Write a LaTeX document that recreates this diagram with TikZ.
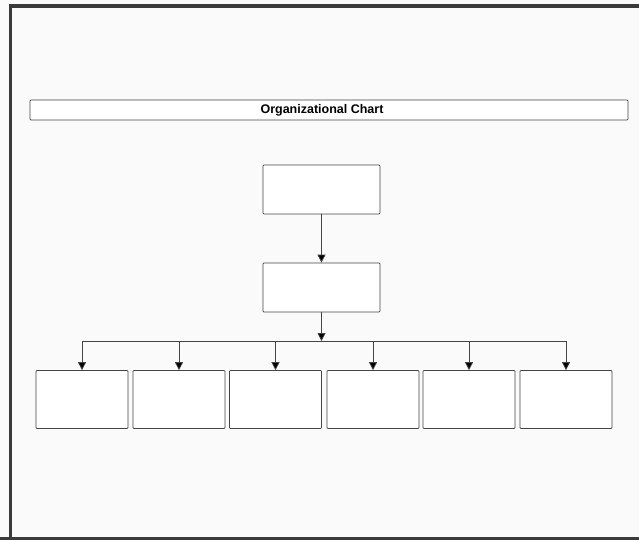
\documentclass[tikz,border=0pt]{standalone}
\usepackage{fontspec}
\setmainfont{Liberation Sans}
\usetikzlibrary{arrows.meta}
\definecolor{framegray}{HTML}{3A3A3A}
\definecolor{linegray}{HTML}{444444}
\begin{document}
\begin{tikzpicture}[x=1pt, y=-1pt,
    orgbox/.style={draw=linegray, line width=0.75pt, rounded corners=0.8pt, inner sep=0pt},
    topbox/.style={orgbox, minimum width=117pt, minimum height=49pt},
    unitbox/.style={orgbox, minimum width=92pt, minimum height=58pt},
    link/.style={draw=linegray, line width=0.75pt},
    >={Triangle[length=8pt,width=8pt,fill=black]}]
    % page and frame
    \fill[white!98!black] (0,0) rectangle (639,540);
    \useasboundingbox (0,0) rectangle (639,540);
    \draw[framegray, line width=3.5pt] (10.5,540) -- (10.5,5.8) -- (639,5.8);
    \draw[framegray, line width=3pt] (0,538.5) -- (639,538.5);

    \node (title) at (329,110) [orgbox, fill=white, minimum width=598pt, minimum height=20pt]
        {\hspace*{-14pt}\fontsize{12.5pt}{14pt}\selectfont\bfseries Organizational Chart};

	\node (c1) at (321.5,189.5) [topbox, fill=white] {};
	\node (c2) at (321.5,287.5) [topbox, fill=white] {};

	\node (u1) at ( 82,399.5) [unitbox, fill=white] {};
	\node (u2) at (179,399.5) [unitbox, fill=white] {};
	\node (u3) at (275.5,399.5) [unitbox, fill=white] {};
	\node (u4) at (373,399.5) [unitbox, fill=white] {};
	\node (u5) at (469,399.5) [unitbox, fill=white] {};
	\node (u6) at (566,399.5) [unitbox, fill=white] {};

    \coordinate (bus) at (321.5,341);
    \coordinate (busl) at (u1.center |- bus);
    \coordinate (busr) at (u6.center |- bus);

    \draw [link, ->] (c1) -- (c2);
    \draw [link, ->] (c2) -- (bus);
    \draw [link] (busl) -- (busr);
    \foreach \u in {u1,u2,u3,u4,u5,u6}
        \draw [link, ->] (\u.center |- bus) -- (\u.north);
\end{tikzpicture}
\end{document}
